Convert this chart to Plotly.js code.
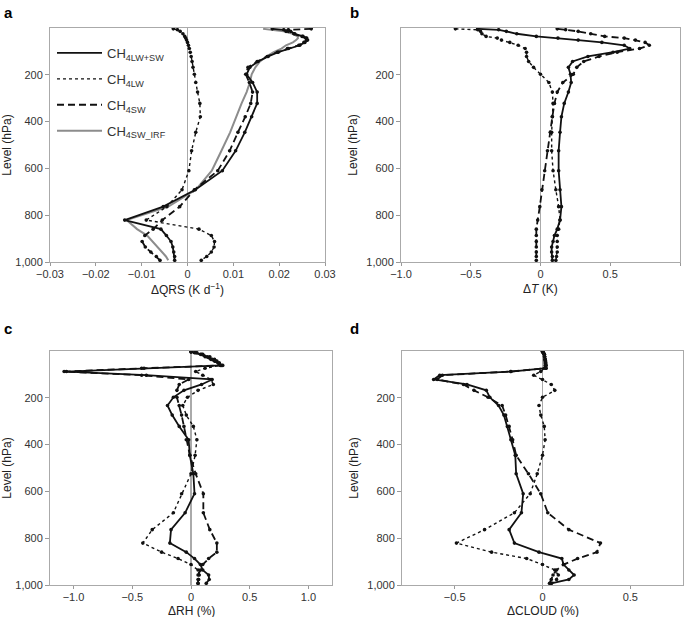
<!DOCTYPE html>
<html>
<head>
<meta charset="utf-8">
<script src="https://cdn.plot.ly/plotly-3.0.1.min.js"></script>
<style>html,body{margin:0;padding:0;background:#fff;}#chart{width:685px;height:617px;}</style>
</head>
<body>
<div id="chart"></div>
<script>
// Pressure levels (hPa)
const levels = [3.64, 7.59, 14.36, 24.61, 35.92, 43.19, 51.68, 61.52, 73.75, 87.82, 103.32, 121.55, 142.99, 168.23, 197.91, 232.83, 273.91, 322.24, 379.10, 445.99, 524.69, 609.78, 691.39, 763.40, 820.86, 859.53, 887.02, 912.64, 936.20, 957.49, 976.33, 992.56];

// Panel a: ΔQRS (K/day)
const qrsBoth = [0.0185, 0.021, 0.0225, 0.0234, 0.0252, 0.026, 0.0262, 0.0256, 0.0245, 0.022, 0.0198, 0.0176, 0.0154, 0.0136, 0.0129, 0.0142, 0.0152, 0.0152, 0.014, 0.0125, 0.0105, 0.0076, 0.0017, -0.0053, -0.0137, -0.0058, -0.0046, -0.0036, -0.0032, -0.003, -0.0028, -0.0028];
const qrsLW = [-0.0031, -0.0022, -0.0016, -0.001, -0.0006, -0.0004, -0.0002, 0.0, 0.0002, 0.0004, 0.0006, 0.0008, 0.001, 0.0012, 0.0015, 0.0018, 0.0022, 0.0027, 0.0028, 0.0018, 0.0009, 0.0003, -0.0012, -0.0045, -0.009, 0.0025, 0.0052, 0.0059, 0.0058, 0.0052, 0.0042, 0.003];
const qrsSW = [0.027, 0.022, 0.0215, 0.0232, 0.025, 0.0258, 0.026, 0.0254, 0.0243, 0.0218, 0.0196, 0.0174, 0.0152, 0.0132, 0.0127, 0.0135, 0.0142, 0.0138, 0.0126, 0.011, 0.0092, 0.0066, 0.0015, -0.0017, -0.0055, -0.0075, -0.0093, -0.0099, -0.0092, -0.008, -0.0068, -0.006];
const qrsIRF = [0.0165, 0.0185, 0.021, 0.023, 0.024, 0.0241, 0.0237, 0.023, 0.0215, 0.0205, 0.0188, 0.0173, 0.0158, 0.0148, 0.014, 0.0136, 0.0129, 0.0118, 0.0106, 0.0093, 0.0074, 0.0053, 0.0018, -0.0042, -0.0133, -0.011, -0.0088, -0.0076, -0.0064, -0.0055, -0.0047, -0.0042];

// Panel b: ΔT (K)
const tBoth = [-0.45, -0.30, -0.245, -0.17, -0.03, 0.125, 0.27, 0.44, 0.60, 0.64, 0.52, 0.34, 0.23, 0.20, 0.215, 0.22, 0.20, 0.17, 0.15, 0.14, 0.13, 0.13, 0.14, 0.15, 0.14, 0.12, 0.10, 0.09, 0.08, 0.08, 0.085, 0.085];
const tLW = [-0.61, -0.45, -0.43, -0.42, -0.39, -0.31, -0.28, -0.22, -0.16, -0.11, -0.10, -0.10, -0.085, -0.05, 0.0, 0.06, 0.085, 0.09, 0.085, 0.08, 0.08, 0.09, 0.11, 0.13, 0.14, 0.13, 0.12, 0.12, 0.12, 0.12, 0.115, 0.11];
const tSW = [0.12, 0.18, 0.27, 0.36, 0.46, 0.60, 0.68, 0.75, 0.78, 0.71, 0.55, 0.42, 0.31, 0.26, 0.235, 0.16, 0.12, 0.10, 0.085, 0.07, 0.05, 0.03, 0.01, -0.005, -0.02, -0.03, -0.03, -0.03, -0.03, -0.03, -0.03, -0.03];

// Panel c: ΔRH (%)
const rhBoth = [0.0, 0.03, 0.08, 0.12, 0.17, 0.2, 0.23, 0.26, -0.42, -1.06, -0.38, 0.18, 0.09, -0.06, -0.15, -0.20, -0.16, -0.10, -0.02, -0.01, 0.02, 0.03, -0.05, -0.17, -0.18, -0.04, 0.03, 0.08, 0.10, 0.15, 0.155, 0.13];
const rhLW = [0.0, 0.05, 0.10, 0.16, 0.20, 0.22, 0.24, 0.25, 0.12, 0.04, 0.10, 0.17, 0.19, 0.06, -0.03, -0.07, -0.04, 0.02, 0.05, 0.035, 0.0, -0.08, -0.15, -0.33, -0.41, -0.25, -0.11, 0.0, 0.06, 0.07, 0.065, 0.06];
const rhSW = [0.0, 0.04, 0.09, 0.14, 0.18, 0.21, 0.24, 0.27, -0.40, -1.08, -0.42, -0.02, -0.10, -0.12, -0.12, -0.10, -0.08, -0.06, -0.04, -0.01, 0.04, 0.105, 0.105, 0.16, 0.22, 0.22, 0.15, 0.10, 0.08, 0.06, 0.06, 0.06];

// Panel d: ΔCLOUD (%)
const cldBoth = [0.0, 0.005, 0.01, 0.012, 0.015, 0.017, 0.018, 0.02, 0.02, -0.18, -0.585, -0.62, -0.43, -0.32, -0.30, -0.25, -0.22, -0.20, -0.18, -0.155, -0.15, -0.11, -0.12, -0.19, -0.16, -0.02, 0.11, 0.12, 0.15, 0.18, 0.15, 0.05];
const cldLW = [0.0, 0.005, 0.01, 0.012, 0.014, 0.015, 0.015, 0.015, 0.01, -0.01, -0.05, 0.0, 0.05, 0.07, 0.0, -0.02, -0.01, 0.01, 0.015, 0.0, -0.03, -0.07, -0.16, -0.33, -0.49, -0.29, -0.09, 0.0, 0.07, 0.09, 0.08, 0.05];
const cldSW = [0.0, 0.005, 0.01, 0.012, 0.015, 0.017, 0.018, 0.02, 0.02, -0.18, -0.57, -0.60, -0.45, -0.39, -0.31, -0.23, -0.21, -0.19, -0.17, -0.15, -0.08, -0.01, 0.03, 0.15, 0.33, 0.31, 0.20, 0.12, 0.08, 0.06, 0.05, 0.04];

const names = ['CH<sub>4LW+SW</sub>', 'CH<sub>4LW</sub>', 'CH<sub>4SW</sub>', 'CH<sub>4SW_IRF</sub>'];
const xTitles = ['\u0394QRS (K d<sup>\u22121</sup>)', '\u0394<i>T</i> (K)', '\u0394RH (%)', '\u0394CLOUD (%)'];
const yTitle = 'Level (hPa)';
const yTickVals = [200, 400, 600, 800, 1000];
const yTickText = ['200', '400', '600', '800', '1,000'];

const styles = [
  {dash: 'solid', width: 1.8},
  {dash: 'dot', width: 1.4},
  {dash: '7px,4px', width: 1.8}
];

const traces = [];
function addPanel(xa, ya, series, legend) {
  series.forEach((vals, i) => {
    traces.push({x: vals, y: levels, xaxis: xa, yaxis: ya, type: 'scatter', mode: 'lines',
      line: {color: '#111', width: styles[i].width, dash: styles[i].dash},
      name: names[i], showlegend: legend, legendrank: i + 1, legendgroup: 'g' + i, hoverinfo: 'skip'});
    traces.push({x: vals, y: levels, xaxis: xa, yaxis: ya, type: 'scatter', mode: 'markers',
      marker: {color: '#111', size: 3.6}, showlegend: false, hoverinfo: 'skip'});
  });
}
// gray IRF first (drawn underneath)
traces.push({x: qrsIRF, y: levels, xaxis: 'x', yaxis: 'y', type: 'scatter', mode: 'lines',
  line: {color: '#8c8c8c', width: 2}, name: names[3], legendrank: 4, legendgroup: 'g3', hoverinfo: 'skip'});
addPanel('x', 'y', [qrsBoth, qrsLW, qrsSW], true);
addPanel('x2', 'y2', [tBoth, tLW, tSW], false);
addPanel('x3', 'y3', [rhBoth, rhLW, rhSW], false);
addPanel('x4', 'y4', [cldBoth, cldLW, cldSW], false);

const font = {family: 'Liberation Sans, Arial, sans-serif', size: 11, color: '#222'};
function xax(domain, range, vals, text, anchor) {
  return {domain: domain, range: range, tickvals: vals, ticktext: text, ticks: 'outside', ticklen: 3,
    ticklabelstandoff: -1,
    tickcolor: '#999', showline: true, linecolor: '#aaa', linewidth: 1, mirror: true,
    zeroline: true, zerolinecolor: '#aaa', zerolinewidth: 1.5, showgrid: false, anchor: anchor,
    tickfont: {size: 11, color: '#333'}};
}
function yax(domain, anchor) {
  return {domain: domain, range: [1000, 0], tickvals: yTickVals, ticktext: yTickText, ticks: 'outside', ticklen: 4,
    tickcolor: '#999', showline: true, linecolor: '#aaa', linewidth: 1, mirror: true, zeroline: false,
    showgrid: false, anchor: anchor, tickfont: {size: 11, color: '#333'},
    title: {text: yTitle, font: {size: 12, color: '#222'}, standoff: 6}};
}
const dxL = [50/685, 325/685], dxR = [401/685, 680/685];
const dxL2 = [50/685, 332/685], dxR2 = [402/685, 683/685];
const dyT = [1 - 262/617, 1 - 28/617], dyB = [1 - 585/617, 1 - 351/617];

function lbl(t, x, y) {
  return {text: '<b>' + t + '</b>', x: x/685, y: 1 - y/617, xref: 'paper', yref: 'paper', xanchor: 'left', yanchor: 'top', showarrow: false, font: {size: 15, color: '#000'}};
}
function xt(t, dom, y) {
  return {text: t, x: (dom[0] + dom[1]) / 2, y: 1 - y/617, xref: 'paper', yref: 'paper', xanchor: 'center', yanchor: 'top', showarrow: false, font: {size: 12, color: '#222'}};
}

const layout = {
  width: 685, height: 617, margin: {l: 0, r: 0, t: 0, b: 0},
  paper_bgcolor: '#fff', plot_bgcolor: '#fff', font: font,
  xaxis: xax(dxL, [-0.03, 0.03], [-0.03, -0.02, -0.01, 0, 0.01, 0.02, 0.03], ['\u22120.03', '\u22120.02', '\u22120.01', '0', '0.01', '0.02', '0.03'], 'y'),
  yaxis: yax(dyT, 'x'),
  xaxis2: xax(dxR, [-1, 1], [-1, -0.5, 0, 0.5, 1], ['\u22121.0', '\u22120.5', '0', '0.5', '1.0'], 'y2'),
  yaxis2: yax(dyT, 'x2'),
  xaxis3: xax(dxL2, [-1.2, 1.2], [-1, -0.5, 0, 0.5, 1], ['\u22121.0', '\u22120.5', '0', '0.5', '1.0'], 'y3'),
  yaxis3: yax(dyB, 'x3'),
  xaxis4: xax(dxR2, [-0.8, 0.8], [-0.5, 0, 0.5], ['\u22120.5', '0', '0.5'], 'y4'),
  yaxis4: yax(dyB, 'x4'),
  showlegend: true,
  legend: {x: 52/685, y: 1 - 38/617, xanchor: 'left', yanchor: 'top', bgcolor: 'rgba(0,0,0,0)',
    font: {size: 13, color: '#333'}, itemwidth: 45, traceorder: 'grouped', tracegroupgap: 6},
  annotations: [
    lbl('a', 2, 2), lbl('b', 348, 2), lbl('c', 2, 318), lbl('d', 348, 318),
    xt(xTitles[0], dxL, 279), xt(xTitles[1], dxR, 280), xt(xTitles[2], dxL2, 602), xt(xTitles[3], dxR2, 602)
  ]
};
Plotly.newPlot('chart', traces, layout, {displayModeBar: false, staticPlot: true});
</script>
</body>
</html>
